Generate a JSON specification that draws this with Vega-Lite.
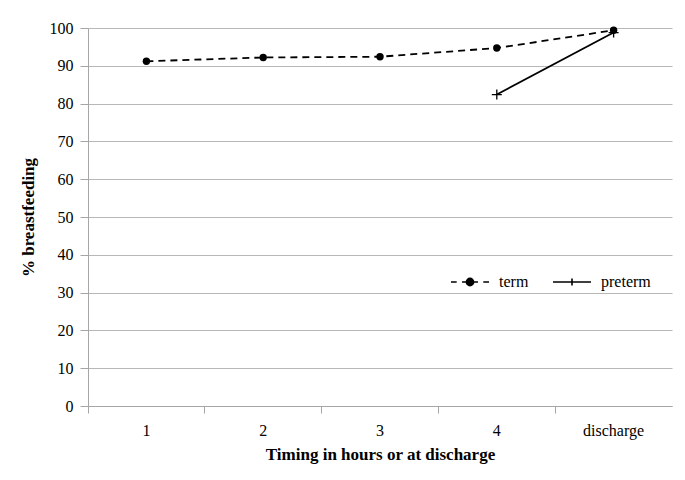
{
  "$schema": "https://vega.github.io/schema/vega-lite/v6.json",
  "width": 584,
  "height": 378,
  "autosize": {"type": "none"},
  "padding": {"left": 88, "top": 28, "right": 13, "bottom": 74},
  "background": "white",
  "config": {
    "view": {"stroke": null},
    "font": "Liberation Serif"
  },
  "data": {
    "values": [
      {"timing": "1", "series": "term", "pct": 91.2},
      {"timing": "2", "series": "term", "pct": 92.2},
      {"timing": "3", "series": "term", "pct": 92.4},
      {"timing": "4", "series": "term", "pct": 94.7},
      {"timing": "discharge", "series": "term", "pct": 99.4},
      {"timing": "4", "series": "preterm", "pct": 82.4},
      {"timing": "discharge", "series": "preterm", "pct": 98.8}
    ]
  },
  "encoding": {
    "x": {
      "field": "timing",
      "type": "ordinal",
      "sort": ["1", "2", "3", "4", "discharge"],
      "scale": {"type": "band", "domain": ["1", "2", "3", "4", "discharge"], "paddingInner": 0, "paddingOuter": 0},
      "axis": {
        "title": "Timing in hours or at discharge",
        "labelAngle": 0,
        "bandPosition": 0,
        "grid": false,
        "domainColor": "#a6a6a6",
        "tickColor": "#a6a6a6",
        "tickSize": 7,
        "labelFont": "Liberation Serif",
        "labelFontSize": 16,
        "labelPadding": 9,
        "labelColor": "black",
        "titleFont": "Liberation Serif",
        "titleFontSize": 17,
        "titleFontWeight": "bold",
        "titleColor": "black",
        "titlePadding": 8
      }
    },
    "y": {
      "field": "pct",
      "type": "quantitative",
      "scale": {"domain": [0, 100]},
      "axis": {
        "title": "% breastfeeding",
        "values": [0, 10, 20, 30, 40, 50, 60, 70, 80, 90, 100],
        "gridColor": "#b8b8b8",
        "gridWidth": 1.2,
        "domainColor": "#a6a6a6",
        "tickColor": "#a6a6a6",
        "tickSize": 8,
        "labelFont": "Liberation Serif",
        "labelFontSize": 16,
        "labelPadding": 7,
        "labelColor": "black",
        "titleFont": "Liberation Serif",
        "titleFontSize": 17,
        "titleFontWeight": "bold",
        "titleColor": "black",
        "titlePadding": 12
      }
    }
  },
  "layer": [
    {
      "transform": [{"filter": "datum.series === 'term'"}],
      "mark": {"type": "line", "color": "black", "strokeWidth": 1.8, "strokeDash": [7, 5]},
      "encoding": {}
    },
    {
      "transform": [{"filter": "datum.series === 'preterm'"}],
      "mark": {"type": "line", "color": "black", "strokeWidth": 1.8},
      "encoding": {}
    },
    {
      "transform": [{"filter": "datum.series === 'term'"}],
      "mark": {"type": "point", "shape": "circle", "filled": true, "color": "black", "opacity": 1, "size": 55}
    },
    {
      "transform": [{"filter": "datum.series === 'preterm'"}],
      "mark": {"type": "point", "shape": "M-1,0H1M0,-1V1", "filled": false, "color": "black", "opacity": 1, "strokeWidth": 1.3, "size": 100}
    },
    {
      "mark": {"type": "point", "filled": false, "color": "black", "strokeWidth": 1.6, "opacity": 0},
      "encoding": {
        "shape": {
          "field": "series",
          "type": "nominal",
          "scale": {
            "domain": ["term", "preterm"],
            "range": [
              "M-1,0H-0.7M-0.42,0H0.42M0.7,0H1M0.19,0A0.19,0.19 0 1,1 -0.19,0A0.19,0.19 0 1,1 0.19,0M0.12,0A0.12,0.12 0 1,1 -0.12,0A0.12,0.12 0 1,1 0.12,0M0.05,0A0.05,0.05 0 1,1 -0.05,0A0.05,0.05 0 1,1 0.05,0",
              "M-1,0H1M0,-0.18V0.18"
            ]
          },
          "legend": {
            "title": null,
            "orient": "none",
            "legendX": 362,
            "legendY": 234,
            "direction": "horizontal",
            "symbolSize": 1444,
            "symbolStrokeColor": "black",
            "symbolStrokeWidth": 1.6,
            "symbolOpacity": 1,
            "labelFont": "Liberation Serif",
            "labelFontSize": 16,
            "labelColor": "black",
            "labelOffset": 9,
            "columnPadding": 20
          }
        }
      }
    }
  ]
}
